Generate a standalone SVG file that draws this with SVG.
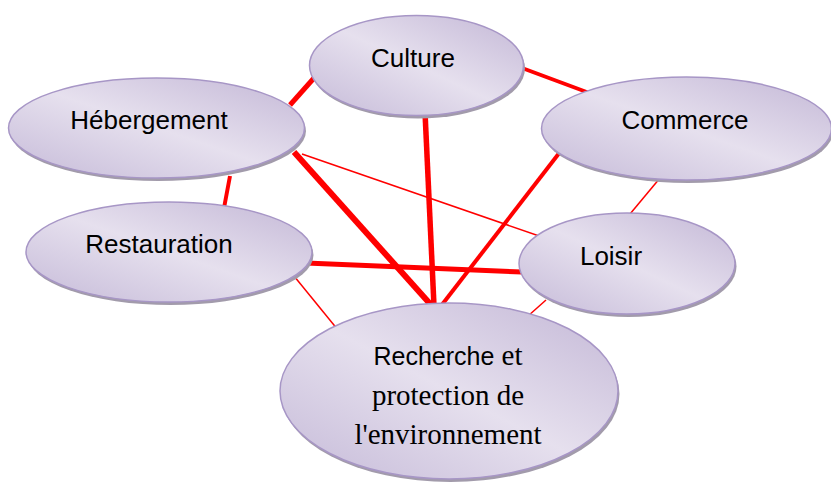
<svg xmlns="http://www.w3.org/2000/svg" width="831" height="484" viewBox="0 0 831 484">
<defs>
<linearGradient id="g" x1="1" y1="0" x2="0" y2="1">
<stop offset="0" stop-color="#c3b7d6"/>
<stop offset="0.5" stop-color="#e6e0ee"/>
<stop offset="1" stop-color="#c5bad8"/>
</linearGradient>
<style>
.sh{fill:#a29bab}
.el{fill:url(#g);stroke:#a796c6;stroke-width:1.5}
.t{font-family:"Liberation Sans",Arial,sans-serif;font-size:26px;fill:#000;text-anchor:middle}
.s{font-family:"Liberation Serif","Times New Roman",serif;font-size:29px;fill:#000;text-anchor:middle}
.c line{stroke:#ff0000;stroke-linecap:butt}
</style>
</defs>
<rect width="831" height="484" fill="#ffffff"/>
<g id="connectors" class="c">
<line x1="290" y1="105" x2="314" y2="78" stroke-width="5"/>
<line x1="522" y1="68" x2="592" y2="94" stroke-width="4"/>
<line x1="425" y1="112" x2="434" y2="306" stroke-width="5.5"/>
<line x1="294" y1="152" x2="432" y2="306" stroke-width="6"/>
<line x1="302" y1="154" x2="545" y2="238" stroke-width="1.5"/>
<line x1="230" y1="176" x2="224" y2="208" stroke-width="4"/>
<line x1="560" y1="152" x2="441" y2="306" stroke-width="4"/>
<line x1="660" y1="178" x2="630" y2="214" stroke-width="1.5"/>
<line x1="306" y1="263" x2="522" y2="272" stroke-width="5"/>
<line x1="294" y1="276" x2="338" y2="330" stroke-width="1.5"/>
<line x1="546" y1="300" x2="528" y2="316" stroke-width="1.5"/>
</g>
<g id="culture">
<ellipse class="sh" cx="418" cy="68.5" rx="107" ry="50"/>
<ellipse class="el" cx="416.5" cy="65.5" rx="107" ry="50"/>
<text class="t" x="413" y="67">Culture</text>
</g>
<g id="hebergement">
<ellipse class="sh" cx="158" cy="131" rx="148" ry="50"/>
<ellipse class="el" cx="156.5" cy="128" rx="148" ry="50"/>
<text class="t" x="149" y="129">Hébergement</text>
</g>
<g id="commerce">
<ellipse class="sh" cx="688" cy="131.5" rx="145" ry="51.5"/>
<ellipse class="el" cx="686.5" cy="128.5" rx="145" ry="51.5"/>
<text class="t" x="685" y="129">Commerce</text>
</g>
<g id="restauration">
<ellipse class="sh" cx="170.5" cy="255" rx="143" ry="50"/>
<ellipse class="el" cx="169" cy="252" rx="143" ry="50"/>
<text class="t" x="159" y="253">Restauration</text>
</g>
<g id="loisir">
<ellipse class="sh" cx="628.5" cy="266.5" rx="108" ry="50.5"/>
<ellipse class="el" cx="627" cy="263.5" rx="108" ry="50.5"/>
<text class="t" x="611" y="265">Loisir</text>
</g>
<g id="recherche">
<ellipse class="sh" cx="450.5" cy="394" rx="169" ry="88"/>
<ellipse class="el" cx="449" cy="391" rx="169" ry="88"/>
<text class="s" x="448" y="365"><tspan style="font-family:'Liberation Sans',Arial,sans-serif;font-size:25px">Recherche</tspan> et</text>
<text class="s" x="448" y="405">protection de</text>
<text class="s" x="448" y="444">l'environnement</text>
</g>
</svg>
